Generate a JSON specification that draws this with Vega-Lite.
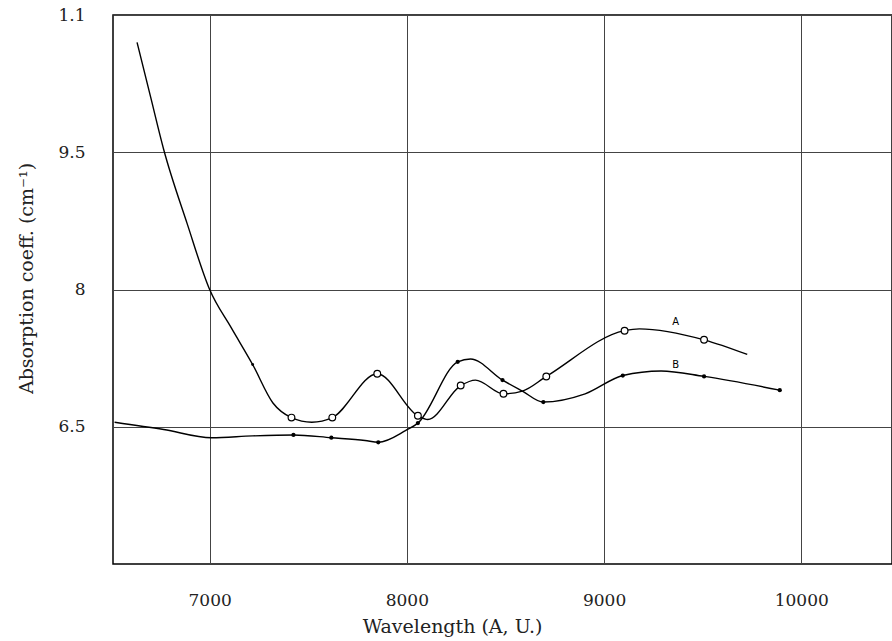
{
  "$schema": "https://vega.github.io/schema/vega-lite/v6.json",
  "autosize": "none",
  "width": 779,
  "height": 549,
  "padding": {"left": 113, "top": 15, "right": 0, "bottom": 77},
  "background": "white",
  "config": {
    "view": {"stroke": "black", "strokeWidth": 1.5},
    "font": "DejaVu Serif"
  },
  "datasets": {
    "curves": [
      {"series": "A", "x": 6632, "y": 10.70, "marker": "none"},
      {"series": "A", "x": 6700, "y": 10.11, "marker": "none"},
      {"series": "A", "x": 6767, "y": 9.53, "marker": "none"},
      {"series": "A", "x": 6886, "y": 8.72, "marker": "none"},
      {"series": "A", "x": 7000, "y": 8.00, "marker": "none"},
      {"series": "A", "x": 7110, "y": 7.58, "marker": "none"},
      {"series": "A", "x": 7218, "y": 7.18, "marker": "dot"},
      {"series": "A", "x": 7321, "y": 6.76, "marker": "none"},
      {"series": "A", "x": 7415, "y": 6.60, "marker": "open"},
      {"series": "A", "x": 7518, "y": 6.55, "marker": "none"},
      {"series": "A", "x": 7622, "y": 6.60, "marker": "open"},
      {"series": "A", "x": 7850, "y": 7.08, "marker": "open"},
      {"series": "A", "x": 8056, "y": 6.62, "marker": "open"},
      {"series": "A", "x": 8106, "y": 6.58, "marker": "none"},
      {"series": "A", "x": 8273, "y": 6.95, "marker": "open"},
      {"series": "A", "x": 8348, "y": 7.01, "marker": "none"},
      {"series": "A", "x": 8490, "y": 6.86, "marker": "open"},
      {"series": "A", "x": 8586, "y": 6.89, "marker": "none"},
      {"series": "A", "x": 8707, "y": 7.05, "marker": "open"},
      {"series": "A", "x": 9104, "y": 7.55, "marker": "open"},
      {"series": "A", "x": 9179, "y": 7.57, "marker": "none"},
      {"series": "A", "x": 9507, "y": 7.45, "marker": "open"},
      {"series": "A", "x": 9726, "y": 7.29, "marker": "none"},
      {"series": "B", "x": 6518, "y": 6.55, "marker": "none"},
      {"series": "B", "x": 6767, "y": 6.47, "marker": "none"},
      {"series": "B", "x": 7010, "y": 6.38, "marker": "none"},
      {"series": "B", "x": 7218, "y": 6.40, "marker": "none"},
      {"series": "B", "x": 7425, "y": 6.41, "marker": "filled"},
      {"series": "B", "x": 7617, "y": 6.38, "marker": "filled"},
      {"series": "B", "x": 7788, "y": 6.35, "marker": "none"},
      {"series": "B", "x": 7855, "y": 6.33, "marker": "filled"},
      {"series": "B", "x": 7995, "y": 6.46, "marker": "none"},
      {"series": "B", "x": 8056, "y": 6.54, "marker": "filled"},
      {"series": "B", "x": 8258, "y": 7.21, "marker": "filled"},
      {"series": "B", "x": 8323, "y": 7.24, "marker": "none"},
      {"series": "B", "x": 8485, "y": 7.01, "marker": "filled"},
      {"series": "B", "x": 8586, "y": 6.89, "marker": "none"},
      {"series": "B", "x": 8692, "y": 6.77, "marker": "filled"},
      {"series": "B", "x": 8904, "y": 6.86, "marker": "none"},
      {"series": "B", "x": 9095, "y": 7.06, "marker": "filled"},
      {"series": "B", "x": 9289, "y": 7.11, "marker": "none"},
      {"series": "B", "x": 9507, "y": 7.05, "marker": "filled"},
      {"series": "B", "x": 9891, "y": 6.90, "marker": "filled"}
    ],
    "labels": [
      {"label": "A", "x": 9363, "y": 7.65},
      {"label": "B", "x": 9363, "y": 7.17}
    ]
  },
  "encoding": {
    "x": {
      "field": "x",
      "type": "quantitative",
      "scale": {"domain": [6510, 10460], "nice": false, "zero": false},
      "axis": {
        "values": [7000, 8000, 9000, 10000],
        "format": "d",
        "title": "Wavelength (A, U.)",
        "domain": false,
        "ticks": false,
        "grid": true,
        "gridColor": "#444",
        "gridWidth": 1,
        "labelPadding": 28,
        "labelFont": "DejaVu Serif",
        "labelFontSize": 17,
        "labelFontWeight": "normal",
        "labelColor": "#222",
        "titleFont": "DejaVu Serif",
        "titleFontSize": 19,
        "titleFontWeight": "normal",
        "titleColor": "#222",
        "titleX": 339,
        "titleY": 62,
        "titleBaseline": "middle"
      }
    },
    "y": {
      "field": "y",
      "type": "quantitative",
      "scale": {"domain": [5, 11], "nice": false, "zero": false},
      "axis": {
        "values": [6.5, 8, 9.5, 11],
        "labelExpr": "datum.value == 11 ? '1.1' : (datum.value == 9.5 ? '9.5' : (datum.value == 8 ? '8' : '6.5'))",
        "title": "Absorption coeff. (cm⁻¹)",
        "domain": false,
        "ticks": false,
        "grid": true,
        "gridColor": "#444",
        "gridWidth": 1,
        "labelPadding": 28,
        "labelFont": "DejaVu Serif",
        "labelFontSize": 17,
        "labelFontWeight": "normal",
        "labelColor": "#222",
        "titleFont": "DejaVu Serif",
        "titleFontSize": 19,
        "titleFontWeight": "normal",
        "titleColor": "#222",
        "titleX": -87,
        "titleY": 263,
        "titleAngle": -90,
        "titleAlign": "center",
        "titleBaseline": "middle"
      }
    }
  },
  "layer": [
    {
      "data": {"name": "curves"},
      "mark": {"type": "line", "interpolate": "monotone", "color": "black", "strokeWidth": 1.4},
      "encoding": {"detail": {"field": "series"}}
    },
    {
      "data": {"name": "curves"},
      "transform": [{"filter": "datum.marker == 'open'"}],
      "mark": {"type": "circle", "size": 45, "fill": "white", "fillOpacity": 1, "stroke": "black", "strokeWidth": 1.2}
    },
    {
      "data": {"name": "curves"},
      "transform": [{"filter": "datum.marker == 'filled'"}],
      "mark": {"type": "circle", "size": 18, "color": "black", "opacity": 1}
    },
    {
      "data": {"name": "curves"},
      "transform": [{"filter": "datum.marker == 'dot'"}],
      "mark": {"type": "circle", "size": 8, "color": "black", "opacity": 1}
    },
    {
      "data": {"name": "labels"},
      "mark": {"type": "text", "font": "DejaVu Sans", "fontSize": 10, "color": "black", "baseline": "middle", "align": "center"},
      "encoding": {"text": {"field": "label"}}
    }
  ]
}
